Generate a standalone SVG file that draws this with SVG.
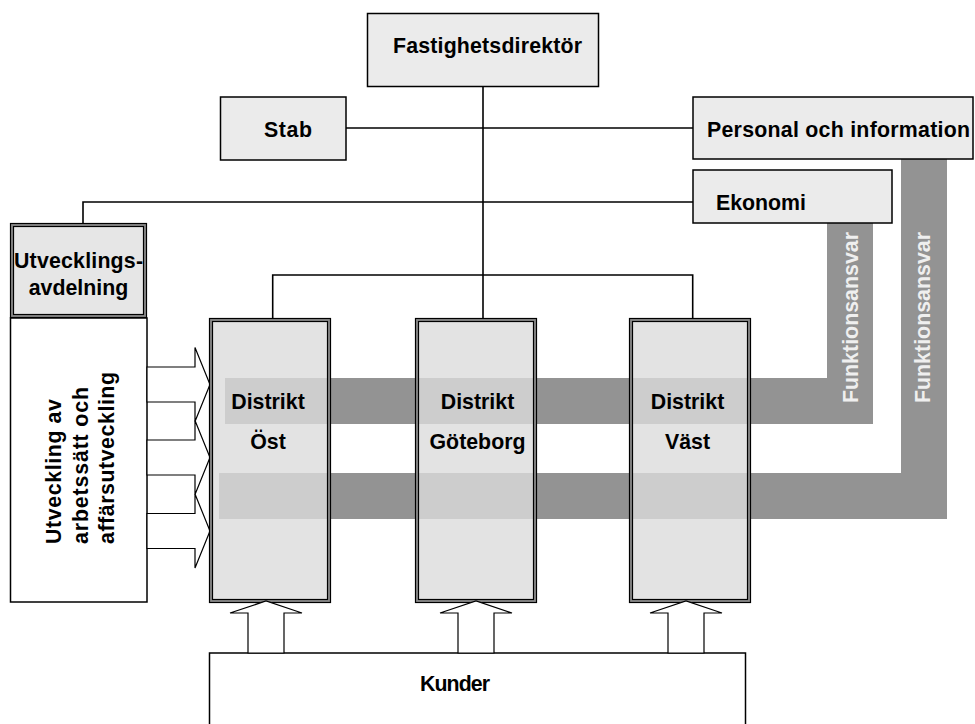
<svg xmlns="http://www.w3.org/2000/svg" width="975" height="724" viewBox="0 0 975 724">
<style>
text{font-family:"Liberation Sans",Arial,sans-serif;font-weight:bold;font-size:21.33px;fill:#000}
.box{fill:#ebebeb;stroke:#000;stroke-width:1.5}
.wbox{fill:#fff;stroke:#000;stroke-width:1.5}
.dfill{fill:rgb(220,220,220);fill-opacity:0.8}
.o1{fill:none;stroke:#000;stroke-width:1.2}
.o2{fill:none;stroke:#8c8c8c;stroke-width:2}
.band{fill:#939393}
.ft{fill:#efefef}
.ln{fill:none;stroke:#000;stroke-width:1.6}
.arr{fill:#fff;stroke:#000;stroke-width:1.2;stroke-linejoin:miter}
.mid{text-anchor:middle}
</style>
<rect width="975" height="724" fill="#fff"/>

<g id="bands">
<polygon class="band" points="225,378 827,378 827,223 873,223 873,424 225,424"/>
<polygon class="band" points="219,473 901,473 901,159 947,159 947,519 219,519"/>
<text class="ft" transform="translate(858,403) rotate(-90)" textLength="171" lengthAdjust="spacing">Funktionsansvar</text>
<text class="ft" transform="translate(930,403) rotate(-90)" textLength="171" lengthAdjust="spacing">Funktionsansvar</text>
</g>

<g id="connectors">
<line class="ln" x1="483" y1="87" x2="483" y2="318"/>
<line class="ln" x1="346" y1="128" x2="693" y2="128"/>
<polyline class="ln" points="83,223 83,202 693,202"/>
<polyline class="ln" points="272.7,318 272.7,275 692.7,275 692.7,318"/>
</g>

<g id="fastighetsdirektor">
<rect class="box" x="367.5" y="13.5" width="231" height="73"/>
<text x="393" y="53" textLength="189" lengthAdjust="spacing">Fastighetsdirektör</text>
</g>

<g id="stab">
<rect class="box" x="220.5" y="97" width="125.5" height="63"/>
<text x="264" y="137" textLength="48" lengthAdjust="spacing">Stab</text>
</g>

<g id="personal">
<rect class="box" x="693" y="97" width="280" height="62"/>
<text x="707" y="137" textLength="263" lengthAdjust="spacing">Personal och information</text>
</g>

<g id="ekonomi">
<rect class="box" x="693" y="170" width="199" height="53"/>
<text x="716" y="210" textLength="90" lengthAdjust="spacing">Ekonomi</text>
</g>

<g id="utvecklingsavdelning">
<rect x="10" y="223" width="137" height="95" fill="#e6e6e6"/>
<rect class="o2" x="12" y="225" width="133" height="91"/>
<rect class="o1" x="10.5" y="223.5" width="136" height="94"/>
<rect class="o1" x="13.5" y="226.5" width="130" height="88"/>
<text class="mid" x="78.5" y="268" textLength="129" lengthAdjust="spacing">Utvecklings-</text>
<text class="mid" x="78.5" y="295">avdelning</text>
</g>

<g id="utveckling">
<rect class="wbox" x="10.5" y="318" width="136.5" height="284"/>
<text transform="translate(61,544) rotate(-90)" textLength="145" lengthAdjust="spacing">Utveckling av</text>
<text transform="translate(88,544) rotate(-90)" textLength="157" lengthAdjust="spacing">arbetssätt och</text>
<text transform="translate(114,544) rotate(-90)" textLength="172" lengthAdjust="spacing">affärsutveckling</text>
</g>

<g id="arrows-left">
<polygon class="arr" points="147,367 195,367 195,347.5 210,384.5 195,421.5 195,402 147,402"/>
<polygon class="arr" points="147,440 195,440 195,420.5 210,457.5 195,494.5 195,475 147,475"/>
<polygon class="arr" points="147,513.5 195,513.5 195,494 210,531 195,568 195,548.5 147,548.5"/>
</g>

<g id="distrikt-ost">
<rect class="dfill" x="209" y="318" width="122" height="285"/>
<rect class="o2" x="211" y="320" width="118" height="281"/>
<rect class="o1" x="209.5" y="318.5" width="121" height="284"/>
<rect class="o1" x="212.5" y="321.5" width="115" height="278"/>
<text class="mid" x="268" y="409">Distrikt</text>
<text class="mid" x="268" y="449">Öst</text>
</g>

<g id="distrikt-goteborg">
<rect class="dfill" x="415" y="318" width="122" height="285"/>
<rect class="o2" x="417" y="320" width="118" height="281"/>
<rect class="o1" x="415.5" y="318.5" width="121" height="284"/>
<rect class="o1" x="418.5" y="321.5" width="115" height="278"/>
<text class="mid" x="477.5" y="409">Distrikt</text>
<text class="mid" x="477.5" y="449">Göteborg</text>
</g>

<g id="distrikt-vast">
<rect class="dfill" x="629" y="318" width="122" height="285"/>
<rect class="o2" x="631" y="320" width="118" height="281"/>
<rect class="o1" x="629.5" y="318.5" width="121" height="284"/>
<rect class="o1" x="632.5" y="321.5" width="115" height="278"/>
<text class="mid" x="687.5" y="409">Distrikt</text>
<text class="mid" x="687.5" y="449">Väst</text>
</g>

<g id="kunder">
<rect class="wbox" x="209.5" y="653" width="536" height="90"/>
<text x="420" y="691" textLength="70" lengthAdjust="spacing">Kunder</text>
</g>

<g id="arrows-up">
<polygon class="arr" points="248,653 248,613 230,613 266,601 302,613 284,613 284,653"/>
<polygon class="arr" points="458,653 458,613 440,613 476,601 512,613 494,613 494,653"/>
<polygon class="arr" points="668,653 668,613 650,613 686,601 722,613 704,613 704,653"/>
</g>
</svg>
